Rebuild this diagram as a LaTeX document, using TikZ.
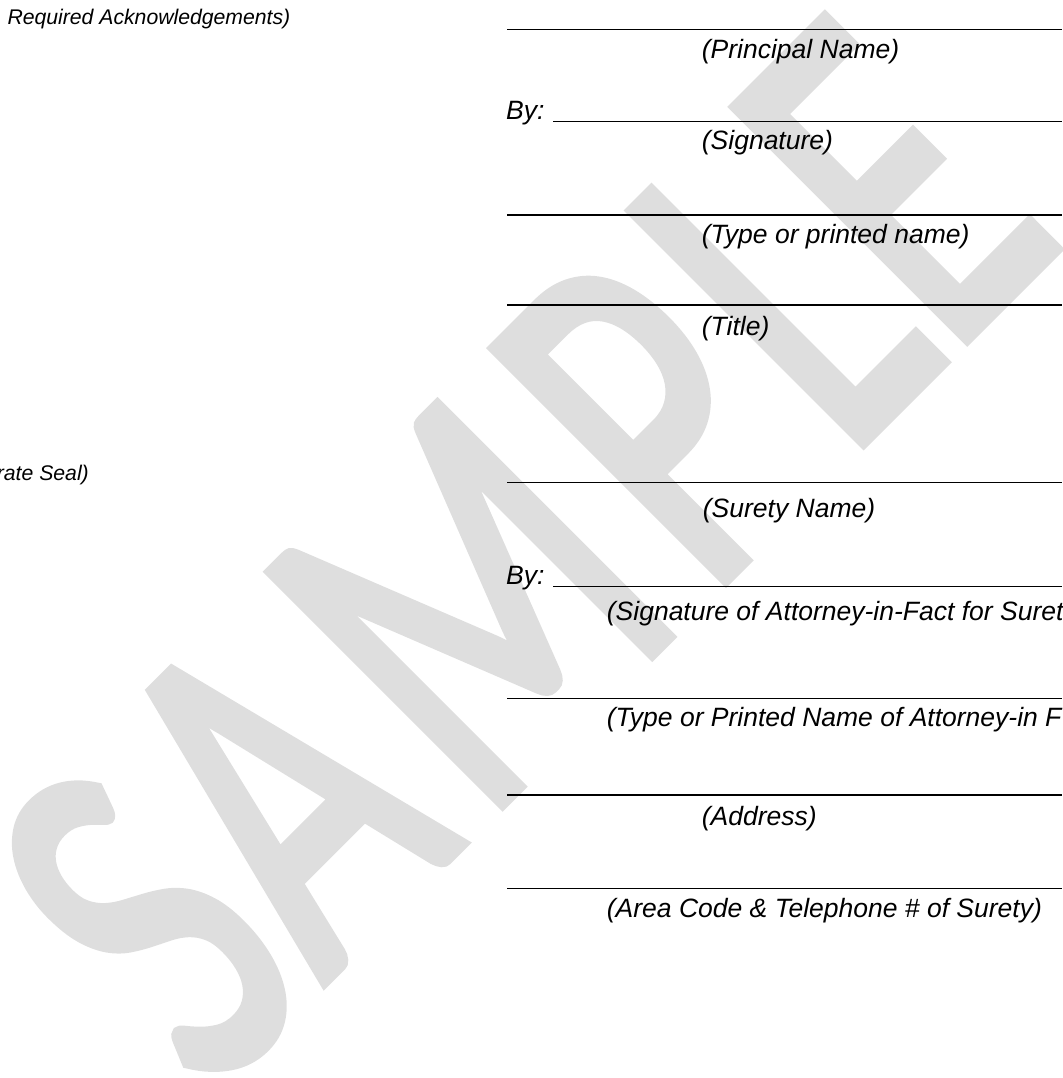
\documentclass[tikz,border=0pt]{standalone}
\usepackage{fontspec}
\setmainfont{Liberation Sans}
\newfontfamily\wmfont[FakeBold=2.5]{Carlito}
\definecolor{wmgray}{RGB}{222,222,222}
\begin{document}
\begin{tikzpicture}[x=1pt,y=-1pt,
  wm/.style={font=\wmfont\fontsize{100}{100}\selectfont, text=wmgray, inner sep=0pt, anchor=base, rotate=45, xscale=3.45, yscale=5.09, transform shape},
  lbl/.style={font=\fontsize{26.5}{30}\selectfont\itshape, inner sep=0pt, anchor=base west},
  note/.style={font=\fontsize{21.2}{24}\selectfont\itshape, inner sep=0pt, anchor=base west},
  rule/.style={line width=1.5pt}]
\useasboundingbox (0,0) rectangle (1062,1078);
% watermark
\node[wm] (wS) at (263.8,1041.6) {S};
\node[wm] (wA) at (393.2,912.2) {A};
\node[wm] (wM) at (585.5,719.8) {M};
\node[wm] (wP) at (770,535) {P};
\node[wm] (wL) at (897,408) {L};
\node[wm] (wE) at (1008,297) {E};
% left notes
\node[note] (ack) at (7.3,25) {Required Acknowledgements)};
\node[note, anchor=base east] (seal) at (89,480.7) {rate Seal)};
% principal block
\coordinate (r1a) at (507,29.3); \coordinate (r1b) at (1062,29.3);
\draw[rule] (r1a) -- (r1b);
\node[lbl] (pname) at (701.7,58.3) {(Principal Name)};
\node[lbl] (by1) at (506,119.7) {By:};
\coordinate (r2a) at (553,121.7); \coordinate (r2b) at (1062,121.7);
\draw[rule] (r2a) -- (r2b);
\node[lbl] (sig) at (701.7,150) {(Signature)};
\coordinate (r3a) at (507,215); \coordinate (r3b) at (1062,215);
\draw[rule] (r3a) -- (r3b);
\node[lbl] (tpn) at (701.7,243.3) {(Type or printed name)};
\coordinate (r4a) at (507,305); \coordinate (r4b) at (1062,305);
\draw[rule] (r4a) -- (r4b);
\node[lbl] (title) at (701.7,335) {(Title)};
% surety block
\coordinate (r5a) at (507,482.7); \coordinate (r5b) at (1062,482.7);
\draw[rule] (r5a) -- (r5b);
\node[lbl] (sname) at (702.7,517.3) {(Surety Name)};
\node[lbl] (by2) at (506,584.7) {By:};
\coordinate (r6a) at (553,586.7); \coordinate (r6b) at (1062,586.7);
\draw[rule] (r6a) -- (r6b);
\node[lbl] (saf) at (606.7,620) {(Signature of Attorney-in-Fact for Suret};
\coordinate (r7a) at (507,698.3); \coordinate (r7b) at (1062,698.3);
\draw[rule] (r7a) -- (r7b);
\node[lbl] (tpaf) at (606.7,726.7) {(Type or Printed Name of Attorney-in F};
\coordinate (r8a) at (507,795); \coordinate (r8b) at (1062,795);
\draw[rule] (r8a) -- (r8b);
\node[lbl] (addr) at (701.7,825) {(Address)};
\coordinate (r9a) at (507,888.3); \coordinate (r9b) at (1062,888.3);
\draw[rule] (r9a) -- (r9b);
\node[lbl] (tel) at (606.7,917) {(Area Code \& Telephone \# of Surety)};
\end{tikzpicture}
\end{document}
